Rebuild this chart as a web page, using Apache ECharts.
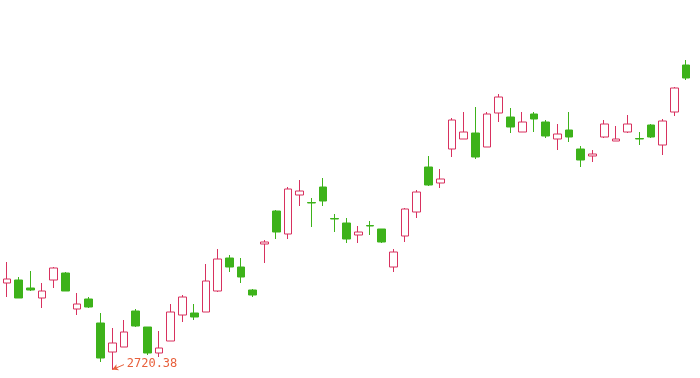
<!DOCTYPE html>
<html>
<head>
<meta charset="utf-8">
<script src="https://cdn.jsdelivr.net/npm/echarts@6/dist/echarts.min.js"></script>
<style>html,body{margin:0;padding:0;background:#fff;}#main{width:700px;height:378px;}</style>
</head>
<body>
<div id="main"></div>
<script>
var categories = ['1','2','3','4','5','6','7','8','9','10','11','12','13','14','15','16','17','18','19','20',
  '21','22','23','24','25','26','27','28','29','30','31','32','33','34','35','36','37','38','39','40',
  '41','42','43','44','45','46','47','48','49','50','51','52','53','54','55','56','57','58','59'];
// [open, close, lowest, highest]
var ohlc = [
  [2807, 2811, 2793, 2828],
  [2810, 2792, 2792, 2813],
  [2802, 2800, 2799, 2819],
  [2792, 2799, 2782, 2807],
  [2810, 2822, 2802, 2823],
  [2817, 2799, 2799, 2818],
  [2781, 2786, 2775, 2797],
  [2791, 2783, 2782, 2793],
  [2767, 2732, 2728, 2777],
  [2738, 2747, 2720.38, 2762],
  [2743, 2758, 2743, 2770],
  [2779, 2764, 2763, 2781],
  [2763, 2737, 2735, 2763],
  [2737, 2742, 2733, 2759],
  [2749, 2778, 2749, 2786],
  [2775, 2793, 2768, 2795],
  [2777, 2773, 2770, 2786],
  [2778, 2809, 2778, 2826],
  [2799, 2831, 2798, 2841],
  [2832, 2823, 2818, 2835],
  [2823, 2813, 2807, 2832],
  [2800, 2795, 2793, 2801],
  [2846, 2848, 2827, 2850],
  [2879, 2858, 2851, 2880],
  [2856, 2901, 2851, 2903],
  [2895, 2899, 2884, 2910],
  [2887.5, 2887, 2863, 2892],
  [2903, 2889, 2884, 2912],
  [2871.5, 2871, 2858, 2876],
  [2867, 2851, 2847, 2872],
  [2855, 2858, 2847, 2864],
  [2864.5, 2864, 2855, 2869],
  [2861, 2848, 2847, 2861],
  [2823, 2838, 2818, 2841],
  [2854, 2881, 2848, 2882],
  [2878, 2898, 2872, 2900],
  [2923, 2905, 2904, 2934],
  [2907, 2911, 2902, 2921],
  [2941, 2970, 2933, 2972],
  [2951, 2958, 2951, 2978],
  [2957, 2933, 2931, 2983],
  [2943, 2976, 2943, 2978],
  [2977, 2993, 2968, 2996],
  [2973, 2963, 2957, 2982],
  [2958, 2968, 2958, 2978],
  [2976, 2971, 2958, 2978],
  [2968, 2954, 2952, 2970],
  [2951, 2956, 2940, 2966],
  [2960, 2953, 2948, 2978],
  [2941, 2930, 2923, 2944],
  [2934, 2936, 2928, 2940],
  [2953, 2966, 2952, 2970],
  [2949, 2951, 2949, 2964],
  [2958, 2966, 2957, 2975],
  [2951.5, 2951, 2945, 2958],
  [2965, 2953, 2952, 2966],
  [2945, 2969, 2935, 2971],
  [2978, 3002, 2974, 3003],
  [3025, 3012, 3010, 3030]
];
var lowLabel = '2720.38';
var lowIndex = 9;
var lowValue = 2720.38;

var chart = echarts.init(document.getElementById('main'), null, {renderer: 'canvas'});
chart.setOption({
  animation: false,
  backgroundColor: '#fff',
  grid: {left: 1, right: 8, top: 0, bottom: 0},
  xAxis: {type: 'category', data: categories, show: false, boundaryGap: true},
  yAxis: {type: 'value', min: 2712, max: 3090, show: false, splitLine: {show: false}},
  series: [{
    type: 'candlestick',
    data: ohlc,
    barWidth: '70%',
    itemStyle: {
      color: '#ffffff',
      color0: '#3db21a',
      borderColor: '#d8315f',
      borderColor0: '#3db21a',
      borderWidth: 1
    },
    markLine: {
      silent: true,
      symbol: ['arrow', 'none'],
      symbolSize: [5, 6],
      lineStyle: {color: '#e8603c', type: 'solid', width: 1},
      label: {show: true, position: 'end', distance: 3, color: '#e8603c', fontSize: 12, fontFamily: 'DejaVu Sans Mono', formatter: lowLabel},
      data: [[
        {coord: [lowIndex, lowValue]},
        {coord: [lowIndex + 1, lowValue + 5]}
      ]]
    }
  }]
});
</script>
</body>
</html>
